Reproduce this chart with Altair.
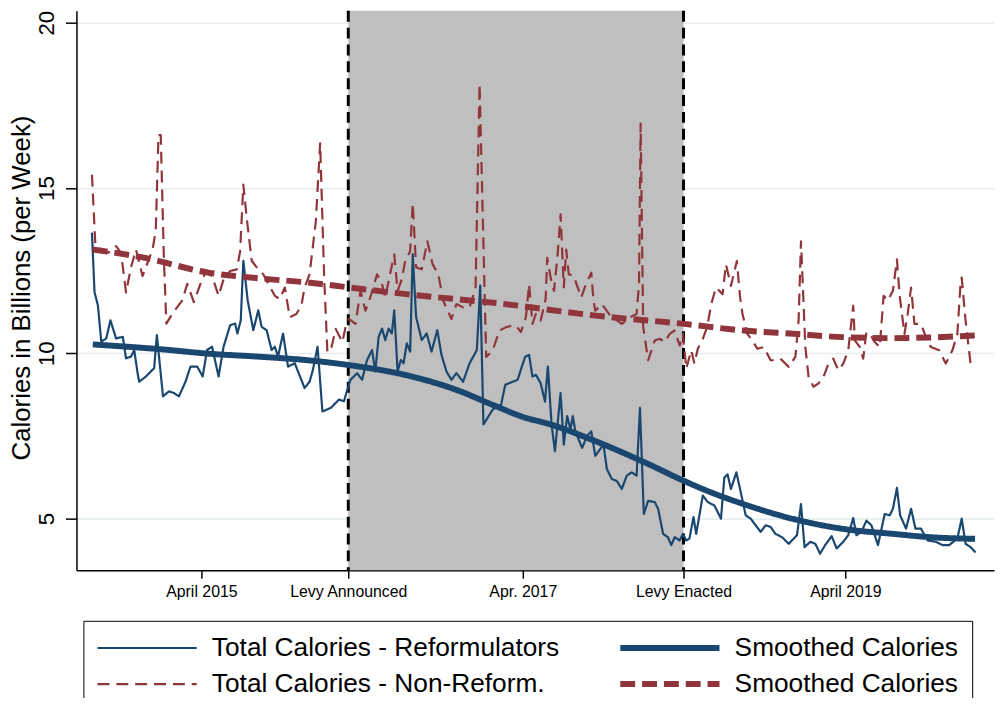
import altair as alt
import pandas as pd

# x values are decimal years (weekly observations)
REF_YEAR = [
    2014.565, 2014.581, 2014.602, 2014.623, 2014.654, 2014.680, 2014.715, 2014.757,
    2014.777, 2014.808, 2014.828, 2014.849, 2014.859, 2014.901, 2014.931, 2014.952,
    2014.969, 2015.007, 2015.044, 2015.075, 2015.106, 2015.147, 2015.178, 2015.220,
    2015.254, 2015.281, 2015.312, 2015.353, 2015.384, 2015.425, 2015.456, 2015.470,
    2015.491, 2015.507, 2015.534, 2015.569, 2015.600, 2015.621, 2015.652, 2015.683,
    2015.703, 2015.723, 2015.754, 2015.785, 2015.827, 2015.888, 2015.919, 2015.940,
    2015.969, 2015.999, 2016.051, 2016.102, 2016.133, 2016.154, 2016.174, 2016.215,
    2016.246, 2016.277, 2016.308, 2016.328, 2016.349, 2016.370, 2016.390, 2016.411,
    2016.431, 2016.446, 2016.467, 2016.487, 2016.504, 2016.524, 2016.545, 2016.561,
    2016.582, 2016.617, 2016.648, 2016.678, 2016.714, 2016.740, 2016.771, 2016.802,
    2016.833, 2016.874, 2016.915, 2016.960, 2016.981, 2017.001, 2017.059, 2017.111,
    2017.137, 2017.183, 2017.214, 2017.240, 2017.261, 2017.285, 2017.306, 2017.327,
    2017.357, 2017.384, 2017.402, 2017.425, 2017.446, 2017.481, 2017.501, 2017.522,
    2017.543, 2017.557, 2017.573, 2017.615, 2017.646, 2017.672, 2017.697, 2017.748,
    2017.769, 2017.800, 2017.831, 2017.862, 2017.893, 2017.923, 2017.954, 2017.975,
    2017.999, 2018.026, 2018.067, 2018.088, 2018.119, 2018.149, 2018.170, 2018.191,
    2018.222, 2018.242, 2018.263, 2018.283, 2018.308, 2018.325, 2018.366, 2018.397,
    2018.438, 2018.479, 2018.500, 2018.520, 2018.541, 2018.575, 2018.602, 2018.633,
    2018.664, 2018.695, 2018.726, 2018.757, 2018.788, 2018.818, 2018.859, 2018.901,
    2018.932, 2018.952, 2018.977, 2018.999, 2019.035, 2019.066, 2019.096, 2019.127,
    2019.168, 2019.199, 2019.240, 2019.271, 2019.302, 2019.322, 2019.353, 2019.384,
    2019.415, 2019.456, 2019.498, 2019.529, 2019.549, 2019.574, 2019.594, 2019.631,
    2019.662, 2019.689, 2019.723, 2019.765, 2019.816, 2019.858, 2019.899, 2019.950,
    2019.977, 2020.001, 2020.032, 2020.063,
]
REF_VALUE = [
    13.65, 11.85, 11.45, 10.35, 10.45, 11.0, 10.45, 10.5,
    9.85, 9.9, 10.1, 9.4, 9.14, 9.3, 9.45, 9.55,
    10.55, 8.7, 8.85, 8.8, 8.7, 9.14, 9.6, 9.6,
    9.3, 10.1, 10.2, 9.3, 10.2, 10.85, 10.9, 10.6,
    11.0, 12.8, 11.6, 10.7, 11.3, 10.8, 10.7, 10.1,
    10.2, 9.9, 10.6, 9.6, 9.7, 8.95, 9.14, 9.5,
    10.2, 8.24, 8.35, 8.6, 8.55, 8.9, 9.2, 9.4,
    9.2, 9.8, 10.1, 9.45, 10.5, 10.75, 10.4, 10.75,
    10.6, 11.3, 9.45, 9.8, 9.7, 10.3, 10.05, 13.0,
    11.1, 10.4, 10.6, 10.05, 10.7, 9.95, 9.45, 9.2,
    9.4, 9.14, 9.7, 10.1, 12.05, 7.85, 8.3, 8.45,
    9.05, 9.14, 9.2, 9.6, 9.9, 9.95, 9.3, 9.35,
    9.1, 8.54, 9.6, 7.84, 7.04, 8.8, 7.24, 8.1,
    7.7, 8.1, 7.64, 7.14, 7.5, 7.64, 6.9, 7.24,
    6.5, 6.2, 6.14, 5.9, 6.3, 6.4, 6.3, 8.35,
    5.14, 5.54, 5.5, 5.3, 4.54, 4.44, 4.2, 4.44,
    4.34, 4.54, 4.34, 4.4, 5.05, 4.54, 5.7, 5.5,
    5.4, 5.0, 6.24, 6.34, 5.9, 6.4, 5.8, 5.1,
    5.0, 4.8, 4.6, 4.8, 4.75, 4.54, 4.44, 4.24,
    4.4, 4.5, 5.44, 4.14, 4.3, 4.24, 3.94, 4.2,
    4.47, 4.1, 4.3, 4.5, 5.02, 4.5, 4.6, 4.94,
    4.8, 4.2, 5.14, 5.1, 5.3, 5.93, 5.1, 4.7,
    5.3, 4.7, 4.7, 4.34, 4.3, 4.2, 4.2, 4.4,
    5.0, 4.24, 4.14, 3.98,
]

NON_YEAR = [
    2014.565, 2014.586, 2014.623, 2014.664, 2014.715, 2014.746, 2014.777, 2014.808,
    2014.839, 2014.880, 2014.911, 2014.942, 2014.962, 2014.979, 2014.993, 2015.013,
    2015.028, 2015.065, 2015.096, 2015.127, 2015.158, 2015.199, 2015.240, 2015.271,
    2015.312, 2015.353, 2015.384, 2015.425, 2015.467, 2015.487, 2015.507, 2015.528,
    2015.559, 2015.600, 2015.631, 2015.662, 2015.703, 2015.734, 2015.765, 2015.796,
    2015.837, 2015.868, 2015.888, 2015.919, 2015.958, 2015.985, 2016.010, 2016.030,
    2016.051, 2016.082, 2016.123, 2016.143, 2016.164, 2016.205, 2016.236, 2016.267,
    2016.297, 2016.339, 2016.370, 2016.390, 2016.411, 2016.446, 2016.467, 2016.493,
    2016.514, 2016.545, 2016.561, 2016.582, 2016.617, 2016.652, 2016.685, 2016.720,
    2016.751, 2016.802, 2016.833, 2016.874, 2016.915, 2016.952, 2016.977, 2017.007,
    2017.018, 2017.059, 2017.100, 2017.141, 2017.183, 2017.203, 2017.234, 2017.265,
    2017.285, 2017.306, 2017.327, 2017.357, 2017.388, 2017.398, 2017.419, 2017.440,
    2017.461, 2017.481, 2017.501, 2017.516, 2017.532, 2017.563, 2017.584, 2017.610,
    2017.635, 2017.672, 2017.686, 2017.697, 2017.738, 2017.790, 2017.862, 2017.913,
    2017.954, 2017.969, 2017.979, 2017.995, 2018.026, 2018.067, 2018.098, 2018.129,
    2018.160, 2018.191, 2018.222, 2018.242, 2018.263, 2018.294, 2018.314, 2018.335,
    2018.366, 2018.393, 2018.419, 2018.448, 2018.489, 2018.510, 2018.541, 2018.578,
    2018.598, 2018.613, 2018.643, 2018.674, 2018.705, 2018.746, 2018.788, 2018.818,
    2018.849, 2018.901, 2018.942, 2018.962, 2018.977, 2019.004, 2019.024, 2019.055,
    2019.086, 2019.117, 2019.148, 2019.178, 2019.209, 2019.240, 2019.271, 2019.302,
    2019.312, 2019.343, 2019.364, 2019.384, 2019.405, 2019.436, 2019.467, 2019.491,
    2019.518, 2019.549, 2019.574, 2019.590, 2019.600, 2019.621, 2019.641, 2019.662,
    2019.683, 2019.723, 2019.755, 2019.785, 2019.837, 2019.878, 2019.919, 2019.950,
    2019.971, 2019.977, 2020.001, 2020.032, 2020.063,
]
NON_VALUE = [
    15.4, 13.3, 13.14, 13.04, 13.24, 13.04, 11.84, 12.6,
    13.14, 12.34, 12.74, 13.14, 13.7, 16.6, 16.6, 12.8,
    10.9, 11.2, 11.4, 11.6, 12.1, 11.55, 12.1, 12.44,
    12.34, 11.74, 12.24, 12.49, 12.54, 13.09, 15.1, 14.1,
    12.8, 12.54, 12.39, 12.1, 11.74, 11.64, 11.99, 11.09,
    11.19, 11.44, 11.99, 12.39, 13.99, 16.35, 12.29, 10.04,
    10.09, 10.74, 10.34, 10.79, 11.04, 10.89, 11.89, 11.29,
    11.69, 12.39, 12.09, 11.69, 12.19, 12.99, 11.89, 12.24,
    12.79, 13.09, 14.54, 12.6, 12.54, 13.39, 12.69, 12.39,
    11.59, 11.04, 11.49, 11.39, 11.39, 11.99, 18.15, 12.09,
    9.89, 10.09, 10.69, 10.79, 10.84, 10.84, 10.64, 11.09,
    12.09, 10.89, 11.19, 10.99, 11.64, 12.89, 12.29, 11.89,
    12.89, 14.2, 11.99, 13.14, 12.39, 12.34, 12.04, 11.69,
    12.04, 12.44, 11.59, 11.29, 11.49, 11.14, 10.89, 11.09,
    11.19, 12.09, 16.95, 10.79, 9.79, 10.39, 10.44, 10.34,
    10.59, 10.69, 10.24, 10.59, 9.54, 10.09, 9.69, 10.14,
    10.44, 10.79, 11.5, 11.99, 11.79, 12.69, 12.04, 12.79,
    11.69, 11.19, 10.59, 10.39, 10.14, 10.19, 9.79, 9.79,
    9.84, 9.59, 9.89, 10.99, 13.39, 10.19, 9.29, 8.99,
    9.09, 9.29, 9.69, 9.84, 9.49, 9.69, 10.09, 11.44,
    10.39, 10.19, 9.84, 10.64, 10.59, 10.34, 10.19, 11.74,
    11.6, 11.89, 12.84, 11.79, 11.39, 10.59, 11.2, 11.99,
    10.89, 10.89, 10.49, 10.19, 10.09, 9.69, 10.09, 10.59,
    12.19, 12.29, 10.99, 9.69, 9.59,
]

REF_SMOOTH_YEAR = [2014.57, 2015.00, 2015.29, 2015.60, 2015.91, 2016.17, 2016.52, 2016.83,
                   2017.06, 2017.27, 2017.39, 2017.70, 2018.01, 2018.25, 2018.42, 2018.62,
                   2018.93, 2019.24, 2019.55, 2019.78, 2020.06]
REF_SMOOTH = [10.27, 10.12, 9.99, 9.90, 9.79, 9.64, 9.34, 8.90,
              8.44, 8.04, 7.89, 7.34, 6.69, 6.14, 5.79, 5.44,
              4.99, 4.69, 4.54, 4.44, 4.39]

NON_SMOOTH_YEAR = [2014.57, 2014.88, 2015.29, 2015.60, 2015.91, 2016.17, 2016.52, 2016.83,
                   2017.08, 2017.70, 2018.25, 2018.62, 2018.93, 2019.24, 2019.55, 2019.78,
                   2020.06]
NON_SMOOTH = [13.14, 12.90, 12.44, 12.27, 12.14, 11.99, 11.79, 11.64,
              11.52, 11.14, 10.89, 10.69, 10.59, 10.49, 10.46, 10.48,
              10.54]

LEVY_ANNOUNCED = 2016.160
LEVY_ENACTED = 2018.246

TICK_YEARS = [2015.246, LEVY_ANNOUNCED, 2017.246, LEVY_ENACTED, 2019.253]
TICK_LABELS = ['April 2015', 'Levy Announced', 'Apr. 2017', 'Levy Enacted', 'April 2019']

# legend is filled column by column: left column raw series, right column smoothed
SERIES_KEYS = ['ref_raw', 'non_raw', 'ref_smooth', 'non_smooth']
SERIES_LABELS = ['Total Calories - Reformulators', 'Total Calories - Non-Reform.',
                 'Smoothed Calories', 'Smoothed Calories']

BLUE = '#1a476f'
RED = '#90353b'
SERIES_COLOURS = [BLUE, RED, BLUE, RED]
SERIES_DASHES = [[1, 0], [12, 7], [1, 0], [15, 7]]
SERIES_WIDTHS = [2.2, 2.2, 6, 6]

X_DOMAIN = [2014.4685, 2020.178]
Y_DOMAIN = [3.44, 20.36]
FONT = 'Liberation Sans'


def series_frame(years, values, key):
    return pd.DataFrame({'year': years, 'value': values, 'series': key})


lines = pd.concat([
    series_frame(REF_YEAR, REF_VALUE, 'ref_raw'),
    series_frame(NON_YEAR, NON_VALUE, 'non_raw'),
])
smooth = pd.concat([
    series_frame(REF_SMOOTH_YEAR, REF_SMOOTH, 'ref_smooth'),
    series_frame(NON_SMOOTH_YEAR, NON_SMOOTH, 'non_smooth'),
])
band = pd.DataFrame({'start': [LEVY_ANNOUNCED], 'end': [LEVY_ENACTED]})
events = pd.DataFrame({'year': [LEVY_ANNOUNCED, LEVY_ENACTED]})

tick_expr = ' : '.join(
    f"abs(datum.value - {y}) < 0.01 ? '{l}'" for y, l in zip(TICK_YEARS, TICK_LABELS)
) + " : ''"
legend_expr = ' : '.join(
    f"datum.value == '{k}' ? '{l}'" for k, l in zip(SERIES_KEYS, SERIES_LABELS)
) + " : ''"

x_axis = alt.Axis(values=TICK_YEARS, labelExpr=tick_expr, title=None, grid=False,
                  tickSize=8, labelFontSize=16, labelPadding=5, labelFlush=False,
                  labelOverlap=False)
x_scale = alt.Scale(domain=X_DOMAIN, nice=False, zero=False)
y_axis = alt.Axis(values=[5, 10, 15, 20], title='Calories in Billions (per Week)',
                  grid=True, gridColor='#e6eef0', gridWidth=1.6, tickSize=11,
                  labelFontSize=22.5, labelAngle=270, labelAlign='center',
                  labelBaseline='alphabetic', labelPadding=12,
                  titleFontSize=26, titleFontWeight='normal', titleAngle=270,
                  titleAlign='center', titleBaseline='top', titleX=-68, titleY=279)
y_scale = alt.Scale(domain=Y_DOMAIN, nice=False, zero=False)

legend = alt.Legend(title=None, orient='none', legendX=7, legendY=615, columns=2,
                    gridAlign='all', symbolType='M0,0H10', symbolSize=400,
                    symbolOffset=-13, labelOffset=102, labelExpr=legend_expr,
                    labelFontSize=26.5, labelLimit=1000, labelColor='black',
                    columnPadding=48, rowPadding=9.5, padding=14,
                    strokeColor='black', fillColor='white', cornerRadius=0)

series_enc = dict(
    x=alt.X('year:Q', scale=x_scale, axis=x_axis),
    y=alt.Y('value:Q', scale=y_scale, axis=y_axis),
    color=alt.Color('series:N', scale=alt.Scale(domain=SERIES_KEYS, range=SERIES_COLOURS),
                    legend=legend),
    strokeDash=alt.StrokeDash('series:N', scale=alt.Scale(domain=SERIES_KEYS, range=SERIES_DASHES),
                              legend=legend),
    strokeWidth=alt.StrokeWidth('series:N',
                                scale=alt.Scale(type='ordinal', domain=SERIES_KEYS,
                                                range=SERIES_WIDTHS),
                                legend=legend),
)

shade = alt.Chart(band).mark_rect(color='#bfbfbf').encode(
    x=alt.X('start:Q', scale=x_scale, axis=x_axis),
    x2='end:Q',
)
rules = alt.Chart(events).mark_rule(color='black', strokeWidth=3, strokeDash=[11, 6]).encode(
    x=alt.X('year:Q', scale=x_scale, axis=x_axis),
)
raw_lines = alt.Chart(lines).mark_line(strokeJoin='round').encode(**series_enc)
smooth_lines = alt.Chart(smooth).mark_line(interpolate='monotone').encode(**series_enc)

chart = alt.layer(shade, rules, raw_lines, smooth_lines).properties(
    width=925,
    height=564,
    padding={'left': 69, 'top': 0, 'right': 1, 'bottom': 126},
    autosize='none',
).configure(
    font=FONT,
).configure_view(
    stroke=None,
).configure_axis(
    domainColor='black', domainWidth=1.5, tickColor='black', tickWidth=1.5,
    labelColor='black', titleColor='black', labelFont=FONT, titleFont=FONT,
)

chart.save("out.html", embed_options={"renderer": "svg", "actions": False})
